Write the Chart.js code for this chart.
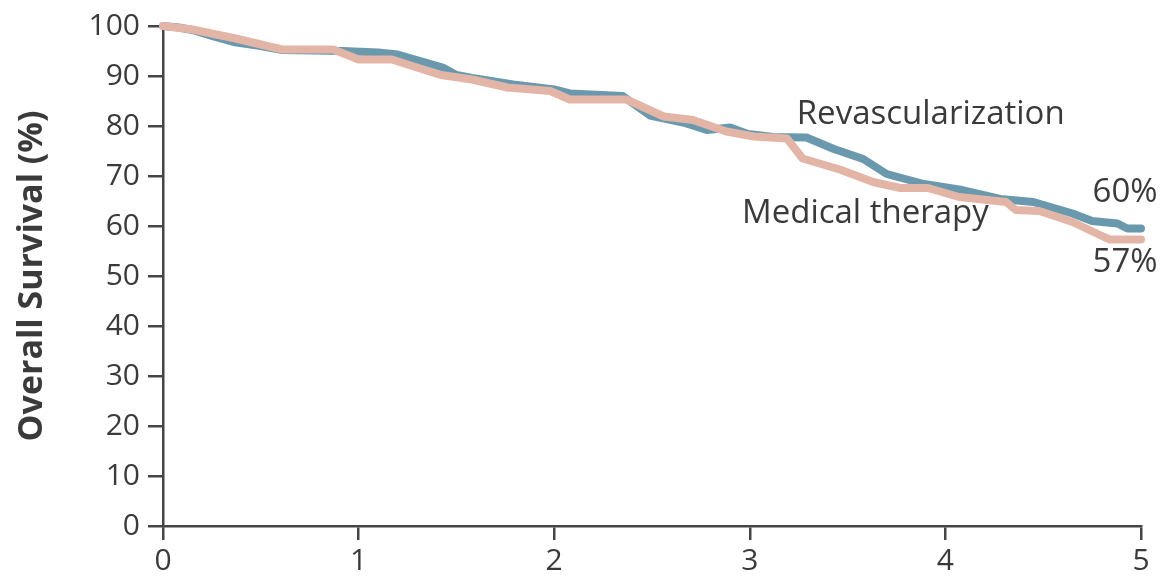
<!DOCTYPE html>
<html>
<head>
<meta charset="utf-8">
<script src="https://cdn.jsdelivr.net/npm/chart.js@4"></script>
<style>
  body { margin: 0; background: #fff; }
  #wrap { width: 1172px; height: 588px; }
</style>
</head>
<body>
<div id="wrap"><canvas id="survChart" width="1172" height="588"></canvas></div>
<script>
// years since randomization / overall survival (%)
const revascYears = [0, 0.08, 0.15, 0.25, 0.36, 0.5, 0.61, 0.92, 1.1, 1.2, 1.43, 1.5, 1.58, 1.79, 2.0, 2.08, 2.35, 2.49, 2.66, 2.78, 2.9, 2.99, 3.12, 3.29, 3.43, 3.58, 3.7, 3.89, 4.07, 4.28, 4.45, 4.65, 4.75, 4.88, 4.93, 5.0];
const revascSurv  = [100, 99.7, 99.2, 98, 96.8, 96, 95.2, 95, 94.7, 94.3, 91.7, 90.2, 89.6, 88.3, 87.3, 86.5, 86, 82.1, 80.7, 79.2, 79.7, 78.4, 77.8, 77.7, 75.4, 73.4, 70.4, 68.4, 67.3, 65.4, 64.8, 62.5, 61, 60.5, 59.5, 59.5];

const medYears = [0, 0.15, 0.36, 0.61, 0.87, 1.0, 1.17, 1.42, 1.58, 1.76, 1.98, 2.08, 2.37, 2.56, 2.71, 2.88, 3.02, 3.19, 3.27, 3.46, 3.63, 3.77, 3.91, 4.07, 4.31, 4.36, 4.48, 4.65, 4.79, 4.84, 5.0];
const medSurv  = [100, 99.3, 97.6, 95.3, 95.3, 93.3, 93.3, 90.2, 89.3, 87.7, 87.0, 85.3, 85.3, 81.9, 81.2, 78.9, 77.9, 77.5, 73.5, 71.3, 68.8, 67.6, 67.6, 65.8, 64.8, 63.2, 63, 60.8, 58.2, 57.3, 57.3];

const xTicks = [0, 1, 2, 3, 4, 5];
const yTicks = [0, 10, 20, 30, 40, 50, 60, 70, 80, 90, 100];

const seriesNames = ["Medical therapy", "Revascularization"];
const endLabels = ["57%", "60%"];

const INK = "#3a3a3a";
const AXIS = "#454545";
const BLUE = "#6a99ae";
const PINK = "#e3b5a7";
const FONT = "'Open Sans', sans-serif";

const toPoints = (xs, ys) => xs.map((x, i) => ({ x: x, y: ys[i] }));

// text placed next to the curves
const curveLabels = {
  id: "curveLabels",
  afterDatasetsDraw(chart) {
    const { ctx, scales: { x, y } } = chart;
    const items = [
      { text: seriesNames[1], t: 3.24, v: 82.3, align: "left" },
      { text: seriesNames[0], t: 2.96, v: 62.4, align: "left" },
      { text: endLabels[1], t: 5.085, v: 66.6, align: "right" },
      { text: endLabels[0], t: 5.085, v: 52.6, align: "right" }
    ];
    ctx.save();
    ctx.font = "33px " + FONT;
    ctx.fillStyle = INK;
    ctx.textBaseline = "middle";
    items.forEach(it => {
      ctx.textAlign = it.align;
      ctx.fillText(it.text, x.getPixelForValue(it.t), y.getPixelForValue(it.v));
    });
    ctx.restore();
  }
};

const ctx = document.getElementById("survChart").getContext("2d");
new Chart(ctx, {
  type: "line",
  data: {
    datasets: [
      {
        label: seriesNames[0],
        data: toPoints(medYears, medSurv),
        borderColor: PINK,
        borderWidth: 8,
        borderJoinStyle: "round",
        borderCapStyle: "round",
        pointRadius: 0,
        tension: 0,
        clip: 10
      },
      {
        label: seriesNames[1],
        data: toPoints(revascYears, revascSurv),
        borderColor: BLUE,
        borderWidth: 8,
        borderJoinStyle: "round",
        borderCapStyle: "round",
        pointRadius: 0,
        tension: 0,
        clip: 10
      }
    ]
  },
  options: {
    responsive: false,
    animation: false,
    layout: { padding: { left: 0, top: 21, right: 31, bottom: 0 } },
    plugins: {
      legend: { display: false },
      tooltip: { enabled: false }
    },
    scales: {
      x: {
        type: "linear",
        min: 0,
        max: 5,
        afterBuildTicks: s => { s.ticks = xTicks.map(v => ({ value: v })); },
        afterFit: s => { s.height = 62; },
        border: { display: true, color: AXIS, width: 2.5 },
        grid: { drawOnChartArea: false, drawTicks: true, tickLength: 14, color: AXIS, lineWidth: 2.5 },
        ticks: { color: INK, font: { family: FONT, size: 30 }, padding: 3, maxRotation: 0 }
      },
      y: {
        min: 0,
        max: 100,
        afterBuildTicks: s => { s.ticks = yTicks.map(v => ({ value: v })); },
        afterFit: s => { s.width = 163; },
        border: { display: true, color: AXIS, width: 2.5 },
        grid: { drawOnChartArea: false, drawTicks: true, tickLength: 15, color: AXIS, lineWidth: 2.5 },
        ticks: { color: INK, font: { family: FONT, size: 30 }, padding: 8 },
        title: {
          display: true,
          text: "Overall Survival (%)",
          color: INK,
          font: { family: FONT, size: 34, weight: "bold" },
          padding: { top: 12, bottom: 0 }
        }
      }
    }
  },
  plugins: [curveLabels]
});
</script>
</body>
</html>
